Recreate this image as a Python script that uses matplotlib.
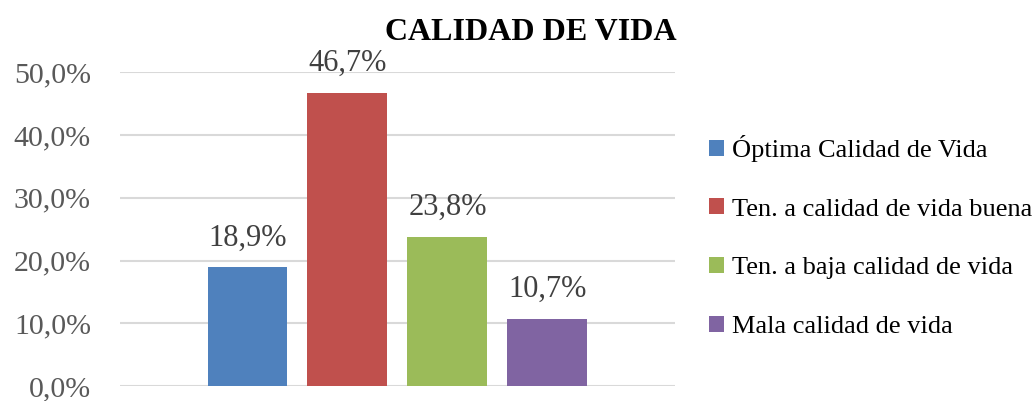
import matplotlib.pyplot as plt
import numpy as np

plt.rcParams['font.family'] = ['Liberation Serif', 'DejaVu Serif']

categories = ["Óptima Calidad de Vida", "Ten. a calidad de vida buena",
              "Ten. a baja calidad de vida", "Mala calidad de vida"]
values = [18.9, 46.7, 23.8, 10.7]
colors = ["#4F81BD", "#C0504D", "#9BBB59", "#8064A2"]
yticks = [0, 10, 20, 30, 40, 50]

fig = plt.figure(figsize=(10.35, 4.01), dpi=100)
ax = fig.add_axes([0.116, 0.037, 0.536, 0.783])

xs = np.arange(len(values))
bars = ax.bar(xs, values, width=0.8, color=colors, label=categories, zorder=3)
for x, v in zip(xs, values):
    ax.text(x, v + 2.4, f"{v:.1f}%".replace(".", ","), ha="center", va="bottom",
            fontsize=22, color="#404040")

ax.set_xlim(-1.275, 4.275)
ax.set_ylim(0, 50)
ax.set_yticks(yticks)
ax.set_yticklabels([f"{t:.1f}%".replace(".", ",") for t in yticks], fontsize=21.5, color="#595959")
ax.set_xticks([])
ax.tick_params(axis="y", length=0, pad=21)
ax.grid(axis="y", color="#d9d9d9", linewidth=1.5, zorder=0)
for s in ax.spines.values():
    s.set_visible(False)

fig.text(0.513, 0.92, "CALIDAD DE VIDA", ha="center", va="center",
         fontsize=23, fontweight="bold")

fig.legend(bars, categories, loc="center left", bbox_to_anchor=(0.675, 0.41),
           frameon=False, fontsize=19, handlelength=0.55, handleheight=0.55,
           handletextpad=0.3, labelspacing=1.38, borderaxespad=0)

fig.savefig("out.png", dpi=100)
